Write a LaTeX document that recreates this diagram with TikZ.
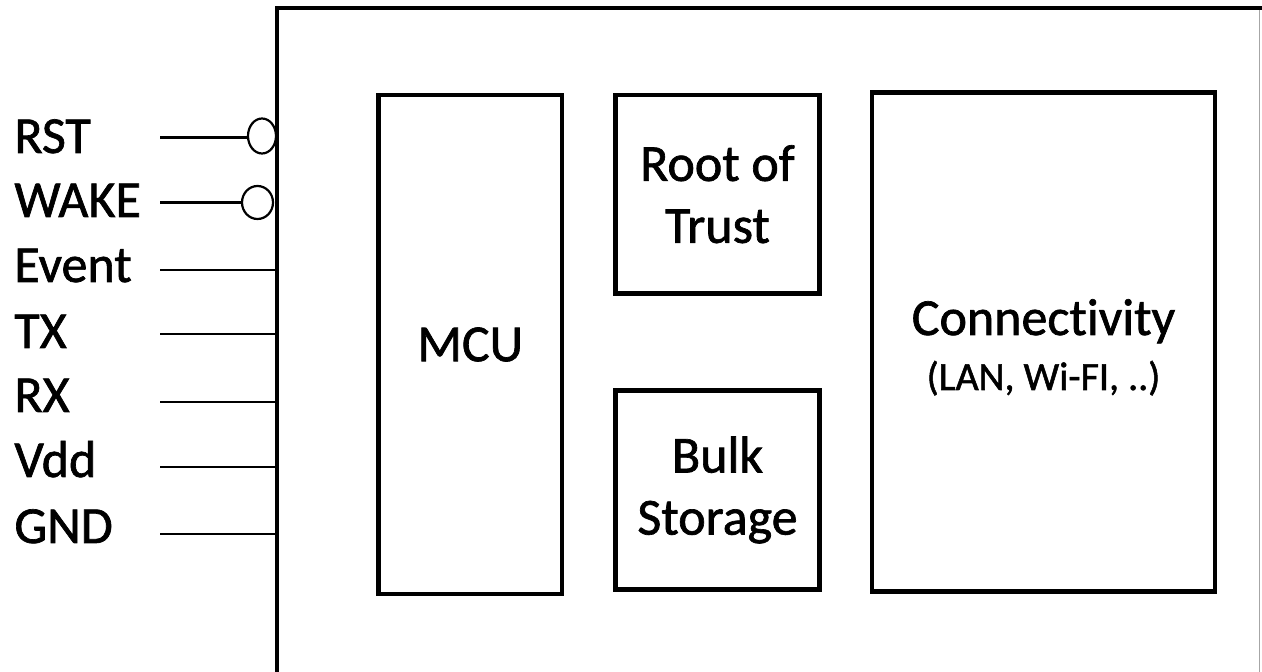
\documentclass[tikz,border=0pt]{standalone}
\usepackage{fontspec}
\setmainfont{Carlito}[Ligatures={CommonOff,ContextualOff}]
\newfontfamily\diagfont{Carlito}[Ligatures={CommonOff,ContextualOff}, FakeBold=1.3]
\usetikzlibrary{shapes.geometric}
\begin{document}
\begin{tikzpicture}[x=0.5pt,y=-0.5pt,
  blk/.style={draw, line width=2.3pt, inner sep=0pt, align=center,
              font=\diagfont\fontsize{26}{31}\selectfont},
  lbl/.style={anchor=base west, inner sep=0pt, font=\diagfont\fontsize{26}{31}\selectfont},
  sub/.style={inner sep=0pt, align=center, font=\diagfont\fontsize{20}{27.5}\selectfont},
  pinline/.style={line width=1.2pt},
  bub/.style={draw, ellipse, line width=1.1pt, inner sep=0pt, fill=white},
  outer/.style={line width=2.2pt},
  edge/.style={line width=0.6pt, black!35}]
\useasboundingbox (0,0) rectangle (1262,672);

% outer module box (cut by the picture edge)
\coordinate (obl) at (277,690);
\coordinate (otl) at (277,8);
\coordinate (otr) at (1270,8);
\coordinate (ertop) at (1259.5,8);
\coordinate (erbot) at (1259.5,690);
\draw[edge] (ertop) -- (erbot);
\draw[outer] (obl) -- (otl) -- (otr);

% inner blocks
\node[blk, minimum width=91.75pt, minimum height=249.5pt] (mcu) at (470.25,344.5) {MCU};
\node[blk, minimum width=102pt, minimum height=99.25pt] (rot) at (717.5,194.25) {Root of\\Trust};
\node[blk, minimum width=102pt, minimum height=99.5pt] (bulk) at (717.5,490) {Bulk\\Storage};
\node[blk, minimum width=171.5pt, minimum height=249.5pt] (conn) at (1043.5,342) {};
\node[blk, draw=none, anchor=base] (conntitle) at (1043.5,335) {Connectivity};
\node[sub, anchor=base] (connsub) at (1043.5,390) {(LAN, Wi-FI, ..)};

% pin labels
\node[lbl] (lrst)  at (14,153) {RST};
\node[lbl] (lwake) at (14,217) {WAKE};
\node[lbl] (levt)  at (14,282) {Event};
\node[lbl] (ltx)   at (14,348) {TX};
\node[lbl] (lrx)   at (14,412) {RX};
\node[lbl] (lvdd)  at (14,477) {Vdd};
\node[lbl] (lgnd)  at (14,543) {GND};

% inversion bubbles
\node[bub, minimum width=14pt, minimum height=17.5pt] (brst) at (262,136) {};
\node[bub, minimum width=15.5pt, minimum height=16.5pt] (bwake) at (257.5,202.5) {};

% pin line start points and box-edge end points
\coordinate (srst)  at (160,137.5);
\coordinate (swake) at (160,202.5);
\coordinate (sevt)  at (160,270);
\coordinate (stx)   at (160,334);
\coordinate (srx)   at (160,402);
\coordinate (svdd)  at (160,467);
\coordinate (sgnd)  at (160,534);
\coordinate (eevt)  at (277,270);
\coordinate (etx)   at (277,334);
\coordinate (erx)   at (277,402);
\coordinate (evdd)  at (277,467);
\coordinate (egnd)  at (277,534);

\draw[pinline] (srst) -- (srst -| brst.west);
\draw[pinline] (swake) -- (bwake.west);
\draw[pinline] (sevt) -- (eevt);
\draw[pinline] (stx) -- (etx);
\draw[pinline] (srx) -- (erx);
\draw[pinline] (svdd) -- (evdd);
\draw[pinline] (sgnd) -- (egnd);
\end{tikzpicture}
\end{document}
